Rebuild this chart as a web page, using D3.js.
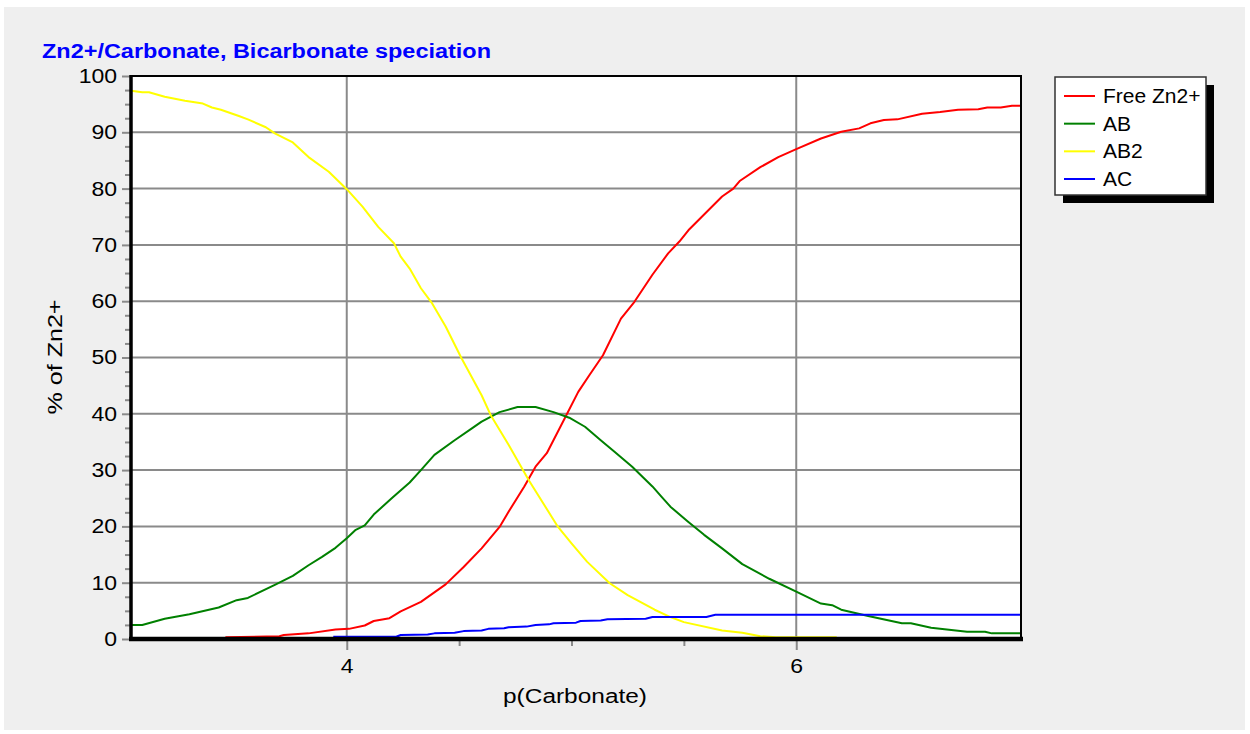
<!DOCTYPE html>
<html>
<head>
<meta charset="utf-8">
<script src="https://cdn.jsdelivr.net/npm/d3@7"></script>
<style>
  html, body { margin: 0; padding: 0; background: #ffffff; }
  svg { display: block; font-family: "Liberation Sans", Arial, sans-serif; }
</style>
</head>
<body>
<svg id="chart" width="1250" height="734"></svg>
<script>
// ---- data ----
const titleText = "Zn2+/Carbonate, Bicarbonate speciation";
const xLabel = "p(Carbonate)";
const yLabel = "% of Zn2+";
const seriesNames = ["Free Zn2+", "AB", "AB2", "AC"];
const seriesColors = ["#ff0000", "#008000", "#ffff00", "#0000ff"];
const xMajorTicks = [4, 6];
const xMinorTicks = [4.5, 5, 5.5];
const yMajorTicks = [0, 10, 20, 30, 40, 50, 60, 70, 80, 90, 100];
const yMinorTicks = [2.5, 5, 7.5, 12.5, 15, 17.5, 22.5, 25, 27.5, 32.5, 35, 37.5, 42.5, 45, 47.5,
  52.5, 55, 57.5, 62.5, 65, 67.5, 72.5, 75, 77.5, 82.5, 85, 87.5, 92.5, 95, 97.5];

const freeZn = [[3.46,0.3],[3.70,0.5],[3.72,0.7],[3.83,1.0],[3.95,1.7],[4.01,1.8],[4.08,2.4],[4.12,3.2],
  [4.19,3.7],[4.24,4.9],[4.33,6.6],[4.44,9.7],[4.52,12.8],[4.60,16.1],[4.68,19.9],[4.72,22.6],[4.79,27.1],
  [4.84,30.6],[4.89,33.0],[4.97,39.2],[5.03,43.9],[5.08,46.9],[5.14,50.4],[5.22,56.9],[5.28,59.9],
  [5.36,64.7],[5.43,68.5],[5.48,70.6],[5.52,72.6],[5.67,78.6],[5.72,80.0],[5.75,81.4],[5.84,83.8],
  [5.92,85.6],[6.00,87.0],[6.11,88.9],[6.20,90.1],[6.28,90.7],[6.33,91.6],[6.39,92.2],[6.45,92.3],
  [6.56,93.3],[6.64,93.6],[6.72,94.0],[6.81,94.1],[6.85,94.4],[6.91,94.4],[6.96,94.7],[7.00,94.7]];

const ab = [[3.04,2.5],[3.09,2.5],[3.19,3.6],[3.30,4.4],[3.43,5.6],[3.51,6.9],[3.56,7.3],[3.68,9.6],
  [3.76,11.2],[3.83,13.1],[3.89,14.6],[3.95,16.2],[4.00,17.9],[4.04,19.4],[4.08,20.2],[4.12,22.1],
  [4.20,25.0],[4.28,27.8],[4.33,30.0],[4.39,32.7],[4.48,35.3],[4.56,37.5],[4.60,38.6],[4.68,40.3],
  [4.76,41.2],[4.84,41.2],[4.92,40.3],[4.99,39.3],[5.06,37.7],[5.13,35.3],[5.19,33.3],[5.27,30.6],
  [5.36,27.1],[5.40,25.3],[5.44,23.5],[5.52,20.8],[5.59,18.5],[5.67,16.1],[5.76,13.3],[5.88,10.7],
  [6.00,8.4],[6.11,6.3],[6.16,6.0],[6.20,5.2],[6.32,4.1],[6.47,2.8],[6.51,2.8],[6.60,2.0],[6.69,1.6],
  [6.76,1.3],[6.84,1.3],[6.87,1.0],[7.00,1.0]];

const ab2 = [[3.04,97.4],[3.09,97.1],[3.12,97.1],[3.19,96.3],[3.28,95.6],[3.36,95.1],[3.40,94.4],
  [3.44,94.0],[3.52,92.9],[3.56,92.3],[3.64,90.9],[3.68,89.8],[3.76,88.2],[3.83,85.6],[3.92,83.0],
  [4.00,79.9],[4.07,76.8],[4.14,73.2],[4.21,70.3],[4.24,67.9],[4.28,65.8],[4.33,62.3],[4.38,59.6],
  [4.44,55.5],[4.51,49.9],[4.60,43.3],[4.64,39.8],[4.72,34.5],[4.81,28.2],[4.94,19.9],[5.00,17.0],
  [5.07,13.7],[5.17,9.9],[5.25,7.8],[5.37,5.2],[5.44,3.9],[5.50,3.0],[5.67,1.5],[5.76,1.1],[5.84,0.5],
  [5.91,0.3],[6.18,0.3]];

const ac = [[3.94,0.4],[4.22,0.4],[4.24,0.7],[4.36,0.8],[4.39,1.0],[4.48,1.1],[4.52,1.4],[4.60,1.5],
  [4.63,1.8],[4.70,1.9],[4.72,2.1],[4.80,2.2],[4.84,2.5],[4.90,2.6],[4.92,2.8],[5.02,2.9],[5.04,3.2],
  [5.13,3.3],[5.16,3.5],[5.33,3.6],[5.36,3.9],[5.60,3.9],[5.64,4.3],[7.00,4.3]];

const seriesData = [freeZn, ab, ab2, ac];

// ---- drawing ----
const svg = d3.select("#chart");
const plotLeft = 131, plotRight = 1021, plotTop = 76, plotBottom = 639;

const x = d3.scaleLinear().domain([3.04, 7]).range([plotLeft, plotRight]);
const y = d3.scaleLinear().domain([0, 100]).range([plotBottom, plotTop]);

// outer gray panel
svg.append("rect").attr("x", 4).attr("y", 7).attr("width", 1241).attr("height", 723).attr("fill", "#efefef");

// plot background
svg.append("rect").attr("x", plotLeft).attr("y", plotTop).attr("width", plotRight - plotLeft)
  .attr("height", plotBottom - plotTop).attr("fill", "#ffffff");

// gridlines
const grid = svg.append("g").attr("stroke", "#8a8a8a").attr("stroke-width", 2);
grid.selectAll(".hg").data(yMajorTicks.filter(v => v > 0 && v < 100)).enter().append("line")
  .attr("x1", plotLeft).attr("x2", plotRight).attr("y1", d => y(d)).attr("y2", d => y(d));
grid.selectAll(".vg").data(xMajorTicks).enter().append("line")
  .attr("x1", d => x(d)).attr("x2", d => x(d)).attr("y1", plotTop).attr("y2", plotBottom);

// axes (ticks + labels)
function styleAxis(g) {
  g.select(".domain").remove();
  g.selectAll(".tick line").attr("stroke", "#8a8a8a").attr("stroke-width", 2);
  g.selectAll(".tick text").attr("fill", "#000").style("font-size", "20px")
    .style("font-family", '"Liberation Sans", Arial, sans-serif');
}
const yAxisMinor = svg.append("g").attr("transform", `translate(${plotLeft},0)`)
  .call(d3.axisLeft(y).tickValues(yMinorTicks).tickSize(6).tickFormat(""));
styleAxis(yAxisMinor);
const yAxis = svg.append("g").attr("transform", `translate(${plotLeft},0)`)
  .call(d3.axisLeft(y).tickValues(yMajorTicks).tickSize(9).tickPadding(5).tickFormat(d3.format("d")));
styleAxis(yAxis);
const xAxisMinor = svg.append("g").attr("transform", `translate(0,${plotBottom})`)
  .call(d3.axisBottom(x).tickValues(xMinorTicks).tickSize(7).tickFormat(""));
styleAxis(xAxisMinor);
const xAxis = svg.append("g").attr("transform", `translate(0,${plotBottom})`)
  .call(d3.axisBottom(x).tickValues(xMajorTicks).tickSize(11).tickPadding(9).tickFormat(d3.format("d")));
styleAxis(xAxis);

// widen tick labels to match the reference's wide sans font
svg.selectAll(".tick text").each(function () {
  const w = this.getComputedTextLength();
  if (w > 0) d3.select(this).attr("textLength", w * 1.15).attr("lengthAdjust", "spacingAndGlyphs");
});

// curves
svg.append("clipPath").attr("id", "clip").append("rect")
  .attr("x", plotLeft).attr("y", plotTop).attr("width", plotRight - plotLeft).attr("height", plotBottom - plotTop);
const line = d3.line().x(d => x(d[0])).y(d => y(d[1]));
const curves = svg.append("g").attr("clip-path", "url(#clip)");
seriesData.forEach((data, i) => {
  curves.append("path").datum(data).attr("d", line)
    .attr("fill", "none").attr("stroke", seriesColors[i]).attr("stroke-width", 2)
    .attr("stroke-linejoin", "round");
});

// frame: thin top / right, thick left / bottom
svg.append("line").attr("x1", plotLeft).attr("x2", plotRight + 1).attr("y1", plotTop).attr("y2", plotTop)
  .attr("stroke", "#000").attr("stroke-width", 2);
svg.append("line").attr("x1", plotRight).attr("x2", plotRight).attr("y1", plotTop).attr("y2", plotBottom)
  .attr("stroke", "#000").attr("stroke-width", 2);
svg.append("line").attr("x1", plotLeft).attr("x2", plotLeft).attr("y1", plotTop - 1).attr("y2", plotBottom + 2)
  .attr("stroke", "#000").attr("stroke-width", 3.5);
svg.append("line").attr("x1", plotLeft - 2).attr("x2", plotRight + 2).attr("y1", plotBottom).attr("y2", plotBottom)
  .attr("stroke", "#000").attr("stroke-width", 4.5);

// title
svg.append("text").attr("x", 42).attr("y", 58).text(titleText)
  .attr("fill", "#0000ff").style("font-weight", "bold").style("font-size", "20px")
  .attr("textLength", 449).attr("lengthAdjust", "spacingAndGlyphs");

// axis titles
svg.append("text").attr("x", 575).attr("y", 703).attr("text-anchor", "middle").text(xLabel)
  .style("font-size", "20px").attr("textLength", 144).attr("lengthAdjust", "spacingAndGlyphs");
svg.append("text").attr("transform", `translate(62,357) rotate(-90)`).attr("text-anchor", "middle").text(yLabel)
  .style("font-size", "20px").attr("textLength", 115).attr("lengthAdjust", "spacingAndGlyphs");

// legend
const lg = svg.append("g");
lg.append("rect").attr("x", 1063).attr("y", 85).attr("width", 151).attr("height", 118).attr("fill", "#000");
lg.append("rect").attr("x", 1055).attr("y", 77).attr("width", 151).attr("height", 118)
  .attr("fill", "#fff").attr("stroke", "#333").attr("stroke-width", 1.5);
const ly = d3.scalePoint().domain(seriesNames).range([96, 179]);
seriesNames.forEach((name, i) => {
  lg.append("line").attr("x1", 1064).attr("x2", 1095).attr("y1", ly(name)).attr("y2", ly(name))
    .attr("stroke", seriesColors[i]).attr("stroke-width", 2);
  lg.append("text").attr("x", 1103).attr("y", ly(name) + 7).text(name).style("font-size", "21px");
});
</script>
</body>
</html>
